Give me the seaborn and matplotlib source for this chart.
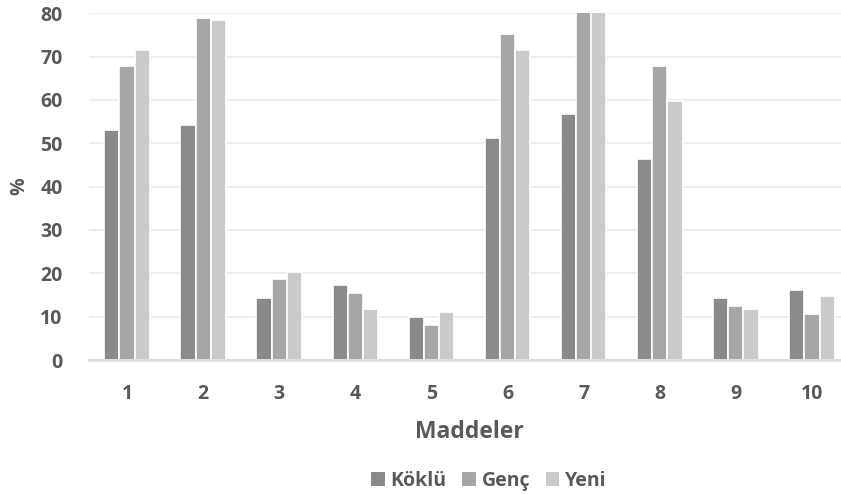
import matplotlib
matplotlib.use("Agg")
import matplotlib.pyplot as plt
import seaborn as sns
import pandas as pd
from matplotlib.patches import Patch

items = ["1", "2", "3", "4", "5", "6", "7", "8", "9", "10"]
koklu = [53.1, 54.3, 14.2, 17.4, 10.0, 51.3, 56.8, 46.3, 14.2, 16.1]
genc = [67.8, 79.0, 18.6, 15.5, 8.1, 75.3, 80.5, 67.8, 12.5, 10.6]
yeni = [71.6, 78.4, 20.4, 11.8, 11.1, 71.6, 80.5, 59.8, 11.8, 14.8]
groups = ["Köklü", "Genç", "Yeni"]
colors = ["#8a8a8a", "#a6a6a6", "#cacaca"]

rows = []
for g, vals in zip(groups, [koklu, genc, yeni]):
    for it, v in zip(items, vals):
        rows.append({"Madde": it, "Grup": g, "Deger": v})
df = pd.DataFrame(rows)

sns.set_theme(style="white")
plt.rcParams['font.family'] = ['Open Sans', 'DejaVu Sans']
txt = "#595959"

fig = plt.figure(figsize=(8.41, 4.94), dpi=100)
ax = fig.add_axes([89/841, 1 - 360/494, 761/841, (360 - 13.3)/494])

sns.barplot(data=df, x="Madde", y="Deger", hue="Grup", order=items,
            hue_order=groups, palette=colors, width=0.6, ax=ax,
            edgecolor="white", linewidth=1.2, saturation=1, legend=False)

ax.set_ylim(0, 80)
ax.set_xlim(-0.5, 9.5)
ax.set_yticks(range(0, 81, 10))
ax.yaxis.grid(True, color="#ececec", linewidth=1.3)
ax.set_axisbelow(True)
for s in ["top", "right", "left"]:
    ax.spines[s].set_visible(False)
ax.spines["bottom"].set_color("#d9d9d9")
ax.spines["bottom"].set_linewidth(1.8)
ax.tick_params(axis="both", length=0, labelsize=14, labelcolor=txt)
ax.tick_params(axis="y", pad=19)
ax.tick_params(axis="x", pad=17)
for lab in ax.get_xticklabels() + ax.get_yticklabels():
    lab.set_fontweight("bold")

ax.set_ylabel("%", fontsize=14, fontweight="bold", color=txt, labelpad=8)
ax.set_xlabel("Maddeler", fontsize=16.5, fontweight="bold", color=txt, labelpad=12)

handles = [Patch(facecolor=c, edgecolor="none") for c in colors]
fig.legend(handles, groups, loc="center", bbox_to_anchor=(489/841, 1 - 481/494),
           ncol=3, frameon=False, handlelength=0.7, handleheight=0.7,
           handletextpad=0.3, columnspacing=0.8,
           prop={"size": 14, "weight": "bold"}, labelcolor=txt)

fig.savefig("out.png", dpi=100)
